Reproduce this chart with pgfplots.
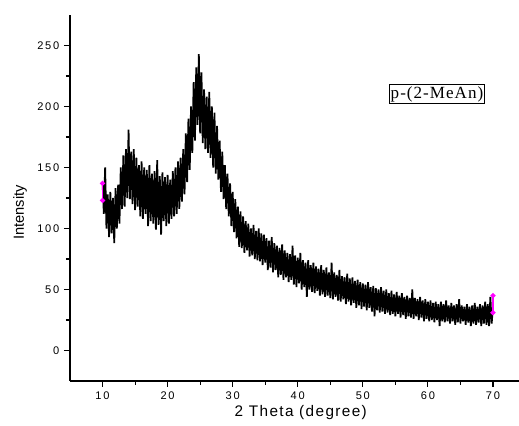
\documentclass[border=0pt]{standalone}
\usepackage{fontspec}
\setmainfont{Liberation Sans}
\newfontfamily\tickfont[LetterSpace=16]{Liberation Sans}
\newfontfamily\xlabfont[LetterSpace=9]{Liberation Sans}
\newfontfamily\timesfont[LetterSpace=6]{Liberation Serif}
\usepackage{pgfplots}
\pgfplotsset{compat=1.18}
\definecolor{mag}{RGB}{255,0,255}
\begin{document}
\begin{tikzpicture}
\begin{axis}[
  scale only axis,
  width=336.75pt, height=274.5pt,
  xmin=5, xmax=74, ymin=-25, ymax=275,
  axis lines=left,
  axis line style={-, line width=0.8pt},
  xtick={10,20,...,70}, ytick={0,50,...,250},
  minor x tick num=1, minor y tick num=1,
  tick align=outside,
  major tick length=4.5pt, minor tick length=3pt,
  every tick/.style={line width=0.8pt, black},
  /pgf/number format/assume math mode=true,
  tick label style={font=\tickfont\fontsize{8.3}{10}\selectfont},
  xlabel={\xlabfont 2 Theta (degree)},
  ylabel={Intensity},
  xlabel style={at={(axis description cs:0.514,-0.085)}, anchor=center, font=\fontsize{11.5}{13}\selectfont},
  ylabel style={at={(axis description cs:-0.111,0.46)}, anchor=center, font=\fontsize{11}{13}\selectfont},
  clip=false,
]
\addplot[black, line width=1.3pt, line join=miter, miter limit=1] coordinates {
(10.0,138)(10.2,112)(10.4,150)(10.6,100)(10.8,128)(11.0,93)(11.2,130)(11.4,96)(11.6,125)(11.8,88)
(12.0,133)(12.2,100)(12.4,136)(12.6,104)(12.8,150)(13.0,116)(13.2,160)(13.4,118)(13.6,165)(13.8,125)
(14.0,181)(14.2,124)(14.4,163)(14.6,120)(14.8,165)(15.0,115)(15.2,158)(15.4,118)(15.6,152)(15.8,110)
(16.0,155)(16.2,108)(16.4,150)(16.6,112)(16.8,148)(17.0,102)(17.2,152)(17.4,106)(17.6,145)(17.8,104)
(18.0,147)(18.2,99)(18.4,156)(18.6,103)(18.8,143)(19.0,95)(19.2,146)(19.4,106)(19.6,142)(19.8,102)
(20.0,144)(20.2,104)(20.4,140)(20.6,108)(20.8,147)(21.0,110)(21.2,150)(21.4,112)(21.6,155)(21.8,116)
(22.0,158)(22.2,122)(22.4,165)(22.6,128)(22.8,178)(23.0,138)(23.2,190)(23.4,148)(23.6,200)(23.8,162)
(24.0,220)(24.2,172)(24.4,232)(24.6,185)(24.8,243)(25.0,178)(25.2,228)(25.4,170)(25.6,214)(25.8,165)
(26.0,208)(26.2,162)(26.4,212)(26.6,158)(26.8,200)(27.0,150)(27.2,195)(27.4,145)(27.6,184)(27.8,140)
(28.0,172)(28.2,130)(28.4,163)(28.6,124)(28.8,152)(29.0,116)(29.2,145)(29.4,110)(29.6,137)(29.8,102)
(30.0,130)(30.2,97)(30.4,124)(30.6,92)(30.8,118)(31.0,85)(31.2,114)(31.4,84)(31.6,110)(31.8,80)
(32.0,106)(32.2,82)(32.4,104)(32.6,77)(32.8,100)(33.0,78)(33.2,103)(33.4,75)(33.6,98)(33.8,74)
(34.0,100)(34.2,73)(34.4,96)(34.6,70)(34.8,95)(35.0,72)(35.2,92)(35.4,66)(35.6,90)(35.8,68)
(36.0,93)(36.2,64)(36.4,88)(36.6,66)(36.8,86)(37.0,60)(37.2,84)(37.4,62)(37.6,87)(37.8,58)
(38.0,82)(38.2,60)(38.4,80)(38.6,56)(38.8,79)(39.0,58)(39.2,86)(39.4,54)(39.6,78)(39.8,52)
(40.0,76)(40.2,55)(40.4,80)(40.6,50)(40.8,74)(41.0,52)(41.2,72)(41.4,44)(41.6,74)(41.8,50)
(42.0,70)(42.2,48)(42.4,72)(42.6,47)(42.8,69)(43.0,49)(43.2,67)(43.4,45)(43.6,70)(43.8,46)
(44.0,66)(44.2,44)(44.4,68)(44.6,45)(44.8,64)(45.0,43)(45.2,72)(45.4,42)(45.6,64)(45.8,44)
(46.0,62)(46.2,41)(46.4,66)(46.6,40)(46.8,61)(47.0,42)(47.2,60)(47.4,38)(47.6,63)(47.8,40)
(48.0,59)(48.2,37)(48.4,60)(48.6,39)(48.8,57)(49.0,35)(49.2,58)(49.4,37)(49.6,56)(49.8,34)
(50.0,55)(50.2,36)(50.4,54)(50.6,33)(50.8,56)(51.0,35)(51.2,52)(51.4,32)(51.6,53)(51.8,28)
(52.0,51)(52.2,33)(52.4,50)(52.6,31)(52.8,52)(53.0,32)(53.2,49)(53.4,30)(53.6,50)(53.8,31)
(54.0,47)(54.2,29)(54.4,49)(54.6,30)(54.8,46)(55.0,28)(55.2,48)(55.4,30)(55.6,45)(55.8,27)
(56.0,47)(56.2,29)(56.4,44)(56.6,26)(56.8,45)(57.0,28)(57.2,43)(57.4,27)(57.6,50)(57.8,26)
(58.0,43)(58.2,28)(58.4,42)(58.6,25)(58.8,44)(59.0,27)(59.2,41)(59.4,24)(59.6,42)(59.8,26)
(60.0,40)(60.2,24)(60.4,41)(60.6,25)(60.8,39)(61.0,23)(61.2,40)(61.4,25)(61.6,38)(61.8,20)
(62.0,40)(62.2,24)(62.4,38)(62.6,23)(62.8,41)(63.0,24)(63.2,37)(63.4,22)(63.6,39)(63.8,24)
(64.0,37)(64.2,21)(64.4,38)(64.6,23)(64.8,42)(65.0,22)(65.2,37)(65.4,24)(65.6,36)(65.8,21)
(66.0,38)(66.2,23)(66.4,36)(66.6,20)(66.8,37)(67.0,22)(67.2,39)(67.4,21)(67.6,36)(67.8,23)
(68.0,38)(68.2,20)(68.4,37)(68.6,22)(68.8,40)(69.0,21)(69.2,38)(69.4,20)(69.6,44)(69.8,22)
(70.0,36)
};
\addplot[mag, line width=1pt, mark=*, mark size=1.4pt] coordinates {(10,137)(10,123)};
\addplot[mag, line width=1pt, mark=*, mark size=1.4pt] coordinates {(70,45)(70,31)};
\node[draw=black, line width=0.7pt, inner sep=1.2pt, font=\timesfont\fontsize{12.8}{14}\selectfont] at (axis cs:61.4,210) {p-(2-MeAn)};
\coordinate (sw) at (rel axis cs:0,0);
\coordinate (ne) at (rel axis cs:1,1);
\end{axis}
\pgfresetboundingbox
\path ([xshift=-52.5pt,yshift=-33.75pt]sw) rectangle ([yshift=11.25pt]ne);
\end{tikzpicture}
\end{document}
